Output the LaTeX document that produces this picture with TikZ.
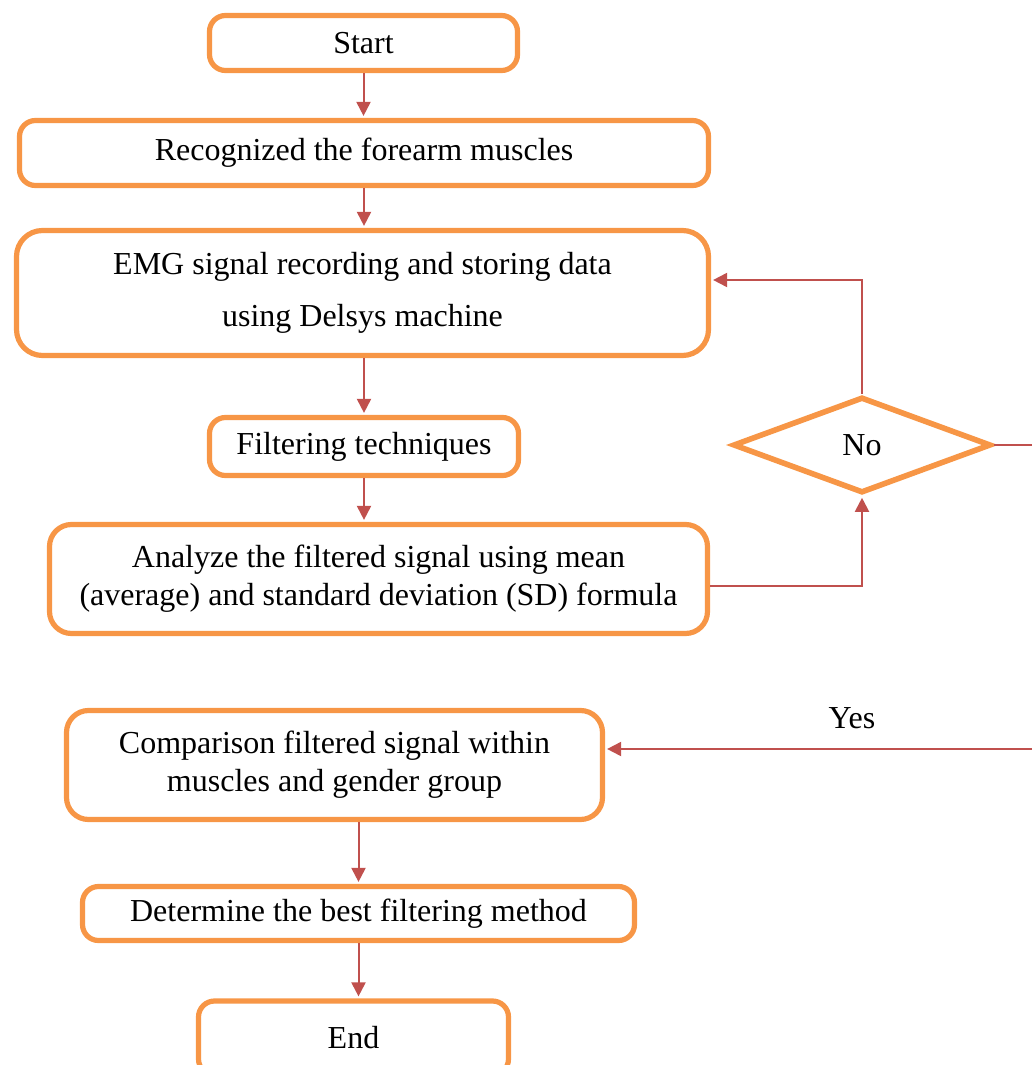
\documentclass[tikz,border=0pt]{standalone}
\usepackage{fontspec}
\setmainfont{Liberation Serif}
\usetikzlibrary{arrows.meta}
\usetikzlibrary{shapes}
\definecolor{boxorange}{RGB}{247,150,70}
\definecolor{arrowred}{RGB}{192,80,77}

\begin{document}
\begin{tikzpicture}[x=0.5pt, y=-0.5pt, shorten >=1pt,
        box_style/.style={rectangle,rounded corners=8pt,draw=boxorange,line width=2.6pt,fill=white,align=center,inner sep=0pt,font=\fontsize{16}{19}\selectfont},
        decision_style/.style={diamond,draw=boxorange,line width=2.8pt,fill=white,inner sep=0pt,font=\fontsize{16}{19}\selectfont},
        edge_style/.style={draw=arrowred, line width=1pt,-{Triangle[width=7pt,length=7pt]}},
        label_style/.style={font=\fontsize{16}{19}\selectfont}]

        \useasboundingbox (0,0) rectangle (1032,1065);

        \node [box_style,minimum width=154pt,minimum height=27.5pt](start) at (363.5,43) {Start};

        \node [box_style,minimum width=344.5pt,minimum height=32.5pt](recog) at (364,153) {Recognized the forearm muscles};

        \node [box_style,rounded corners=13pt,minimum width=346pt,minimum height=62.5pt](emg) at (362.5,293) {EMG signal recording and storing data\\[7pt]using Delsys machine};

        \node [box_style,minimum width=154.5pt,minimum height=29pt](filt) at (364,446.5) {Filtering techniques};

        \node [box_style,rounded corners=11pt,minimum width=329pt,minimum height=54.5pt](analyze) at (378.5,579) {Analyze the filtered signal using mean\\(average) and standard deviation (SD) formula};

        \node [decision_style,minimum width=129pt,minimum height=48pt](dec) at (862,445) {No};

        \node [box_style,rounded corners=11pt,minimum width=268pt,minimum height=54.5pt](compare) at (334.5,765) {Comparison filtered signal within\\muscles and gender group};

        \node [box_style,minimum width=276pt,minimum height=27pt](determine) at (358.5,913.5) {Determine the best filtering method};

        \node [box_style,minimum width=155pt,minimum height=37pt](finish) at (353.5,1038) {End};

        \node [label_style](yes) at (852,718) {Yes};

        \coordinate (offpage) at (1060,445);

        \draw [edge_style] (start.south) -- (start.south |- recog.north);

        \draw [edge_style] (recog.south) -- (recog.south |- emg.north);

        \draw [edge_style] (recog.south |- emg.south) -- (recog.south |- filt.north);

        \draw [edge_style] (filt.south) -- (filt.south |- analyze.north);

        \draw [edge_style] ([yshift=-3.5pt]analyze.east) -| (dec.south);

        \draw [edge_style] (dec.north) |- ([yshift=6.5pt]emg.east);

        \draw [edge_style] (dec.east) -- (offpage) |- ([yshift=8pt]compare.east);

        \draw [edge_style] (compare.south -| determine.north) -- (determine.north);

        \draw [edge_style] (determine.south) -- (determine.south |- finish.north);

        \end{tikzpicture}
\end{document}
